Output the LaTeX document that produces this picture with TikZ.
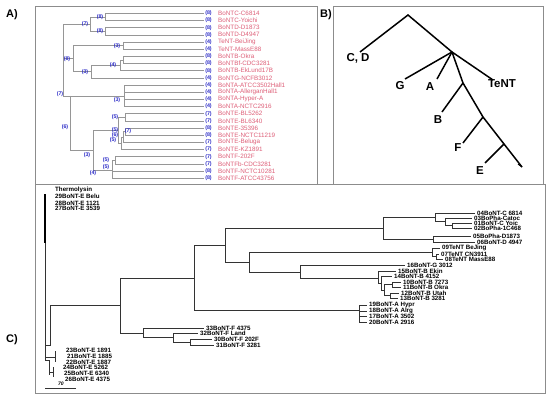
\documentclass[tikz,border=0pt]{standalone}
\usepackage{fontspec}
\setmainfont{Liberation Sans}
\definecolor{pinkA}{RGB}{222,95,120}
\definecolor{blueA}{RGB}{45,45,200}
\definecolor{grayA}{RGB}{150,150,150}
\definecolor{frameC}{RGB}{140,140,140}
\begin{document}
\begin{tikzpicture}[x=1pt,y=-1pt,
  treeA/.style={draw=grayA,line width=0.6pt},
  treeC/.style={draw=black!80,line width=0.6pt},
  treeB/.style={draw=black,line width=1.5pt},
  frame/.style={draw=frameC,line width=0.8pt},
  lblA/.style={font=\fontsize{6.3}{6.3}\selectfont,text=pinkA,anchor=west,inner sep=0pt},
  numA/.style={font=\fontsize{5.3}{5.3}\selectfont\bfseries,text=blueA,inner sep=0pt},
  lblC/.style={font=\fontsize{6.2}{6.2}\selectfont\bfseries,anchor=west,inner sep=0pt},
  lblB/.style={font=\fontsize{11.5}{11.5}\selectfont\bfseries,inner sep=0pt},
  panel/.style={font=\fontsize{11}{11}\selectfont\bfseries,inner sep=0pt}]
\useasboundingbox (0,0) rectangle (550,399);
\fill[white] (0,0) rectangle (550,399);
% frames
\draw[frame] (35,6) rectangle (317,184);
\draw[frame] (333,6) rectangle (543,184);
\draw[frame] (35,184) rectangle (545,393);
\node[panel] (labA) at (12,15) {A)};
\node[panel] (labB) at (326,15) {B)};
\node[panel] (labC) at (12,340) {C)};

% ================= Panel A =================
\foreach \i/\px/\n/\t in {1/105/8/BoNTC-C6814,2/105/8/BoNTC-Yoichi,3/105/8/BoNTD-D1873,4/105/8/BoNTD-D4947,
 5/123/4/TeNT-BeiJing,6/123/4/TeNT-MassE88,7/123/8/BoNTB-Okra,8/123/8/BoNTBf-CDC3281,9/120/8/BoNTB-EkLund17B,
 10/91/4/BoNTG-NCFB3012,11/124/4/BoNTA-ATCC3502Hall1,12/124/4/BoNTA-AllerganHall1,13/124/4/BoNTA-Hyper-A,
 14/124/4/BoNTA-NCTC2916,15/125/7/BoNTE-BL5262,16/125/7/BoNTE-BL6340,17/125/8/BoNTE-35396,18/125/8/BoNTE-NCTC11219,
 19/123/7/BoNTE-Beluga,20/121/7/BoNTE-KZ1891,21/115/7/BoNTF-202F,22/115/7/BoNTFb-CDC3281,23/112/8/BoNTF-NCTC10281,
 24/112/8/BoNTF-ATCC43756}{
  \pgfmathsetmacro\yy{13.3+7.17*(\i-1)}
  \draw[treeA] (\px,\yy) -- (204,\yy);
  \node[numA] (na\i) at (208.5,\yy) {(\n)};
  \node[lblA] (la\i) at (218,\yy) {\t};
}
% internal structure
\draw[treeA] (105,13.3) -- (105,20.47);
\draw[treeA] (105,27.64) -- (105,34.81);
\draw[treeA] (105,16.9) -| (90,31.2) -- (105,31.2);
\draw[treeA] (63,24.05) -- (90,24.05);
\draw[treeA] (63,24.05) -- (63,95.8) -- (124,95.8);
\draw[treeA] (123,41.98) -- (123,49.15);
\draw[treeA] (123,56.32) -- (123,63.49);
\draw[treeA] (123,59.9) -| (120,70.66);
\draw[treeA] (120,65.3) -| (91,77.83);
\draw[treeA] (123,45.6) -| (73,71.6) -- (91,71.6);
\draw[treeA] (63,58.6) -- (73,58.6);
\draw[treeA] (124,85) -- (124,106.51);
\draw[treeA] (125,113.68) -- (125,120.85);
\draw[treeA] (125,128.02) -- (125,135.19);
\draw[treeA] (125,131.6) -| (123,142.36);
\draw[treeA] (123,137) -| (121,149.53);
\draw[treeA] (125,117.3) -| (118,143.3) -- (121,143.3);
\draw[treeA] (115,156.7) -- (115,163.87);
\draw[treeA] (115,160.3) -| (112,178.21);
\draw[treeA] (118,130.3) -| (93,170) -- (112,170);
\draw[treeA] (70,95.8) -- (70,150) -- (93,150);
% node support numbers
\foreach \x/\y/\n [count=\k] in {100/17/8,100/31/8,85/24/7,67/59/8,117/46/3,113/65/4,85/72/3,60/94/7,117/100/3,
 65/127/6,115/117/5,115/130/5,115/135/6,113/140/5,128/131/7,87/155/3,106/160/5,106/167/5,93/173/4}{
  \node[numA] (nn\k) at (\x,\y) {(\n)};
}

% ================= Panel B =================
\coordinate (bR) at (408,15);
\coordinate (bCD) at (360,52);
\coordinate (bN1) at (452,52);
\coordinate (bG) at (405,79);
\coordinate (bA) at (437,79);
\coordinate (bT) at (493,80);
\coordinate (bN2) at (463,83);
\coordinate (bN3) at (483,117);
\coordinate (bN4) at (504,144);
\coordinate (bEnd) at (522,167);
\coordinate (bB) at (442,112);
\coordinate (bF) at (463,143);
\coordinate (bE) at (485,163);
\draw[treeB] (bCD) -- (bR) -- (bN1) -- (bN2) -- (bN3) -- (bN4) -- (bEnd);
\draw[treeB] (bN1) -- (bG);
\draw[treeB] (bN1) -- (bA);
\draw[treeB] (bN1) -- (bT);
\draw[treeB] (bN2) -- (bB);
\draw[treeB] (bN3) -- (bF);
\draw[treeB] (bN4) -- (bE);
\draw[black,line width=1pt] (bEnd) -- ++(-4,-3);
\node[lblB] (tCD) at (358,58) {C, D};
\node[lblB] (tG) at (400,86) {G};
\node[lblB] (tA) at (430,87) {A};
\node[lblB] (tT) at (502,84) {TeNT};
\node[lblB] (tB) at (438,120) {B};
\node[lblB] (tF) at (458,148) {F};
\node[lblB] (tE) at (480,171) {E};

% ================= Panel C =================
\draw[black,line width=1.6pt] (45,194) -- (45,243);
\draw[treeC] (45,243) -- (45,360);
\draw[treeC] (45,345) -- (50,345) -- (50,305) -- (120,305);
\draw[treeC] (45,357) -- (55,357);
\draw[treeC] (55,351) -- (55,362);
\draw[treeC] (45,360) -- (49,360) -- (49,375);
\draw[treeC] (49,372) -- (53,372);
\draw[treeC] (53,367) -- (53,377);
\draw[treeC] (120,278) -- (120,333);
\draw[treeC] (120,278) -- (194,278);
\draw[treeC] (194,245) -- (194,310);
\draw[treeC] (194,245) -- (225,245);
\draw[treeC] (225,228) -- (225,262);
\draw[treeC] (225,228) -- (383,228);
\draw[treeC] (383,217.4) -- (383,239);
\draw[treeC] (383,217.4) -- (435,217.4);
\draw[treeC] (435,213) -- (435,221.75) -- (445,221.75);
\draw[treeC] (445,218) -- (445,225.5) -- (452,225.5);
\draw[treeC] (452,223) -- (452,228);
\draw[treeC] (383,239) -- (433,239);
\draw[treeC] (433,236) -- (433,242);
\draw[treeC] (225,262) -- (249,262);
\draw[treeC] (249,252.25) -- (249,272);
\draw[treeC] (249,252.25) -- (432,252.25);
\draw[treeC] (432,248) -- (432,256.5) -- (436,256.5);
\draw[treeC] (436,254) -- (436,259);
\draw[treeC] (249,272) -- (300,272);
\draw[treeC] (300,265) -- (300,278) -- (378,278);
\draw[treeC] (378,271) -- (378,283) -- (381,283);
\draw[treeC] (381,276.5) -- (381,290) -- (384,290);
\draw[treeC] (384,284.5) -- (384,295.5);
\draw[treeC] (384,284.5) -- (392,284.5);
\draw[treeC] (384,295.5) -- (390,295.5);
\draw[treeC] (392,282) -- (392,287);
\draw[treeC] (390,293) -- (390,298);
\draw[treeC] (194,310) -- (359,310);
\draw[treeC] (359,305) -- (359,322);
\draw[treeC] (120,333) -- (143,333);
\draw[treeC] (143,328) -- (143,337) -- (173,337);
\draw[treeC] (173,333) -- (173,342) -- (190,342);
\draw[treeC] (190,339) -- (190,345);
\foreach \xs/\xe/\y/\lx/\t [count=\k] in {
 435/475/213/477/04BoNT-C 6814, 445/472/218/474/03BoPha-Catoc, 452/472/223/474/01BoNT-C Yoic,
 452/472/228/474/02BoPha-1C468, 433/471/236/473/05BoPha-D1873, 433/475/242/477/06BoNT-D 4947,
 432/440/248/442/09TeNT BeJing, 436/439/254/441/07TeNT CN3911, 436/443/259/445/08TeNT MassE88,
 300/405/265/407/16BoNT-G 3012, 378/396/271/398/15BoNT-B Ekin, 381/392/276.5/394/14BoNT-B 4152,
 392/401/282/403/10BoNT-B 7273, 392/401/287/403/11BoNT-B Okra, 390/399/293/401/12BoNT-B Utah,
 390/398/298/400/13BoNT-B 3281, 359/367/305/369/19BoNT-A Hypr, 359/367/311/369/18BoNT-A Alrg,
 359/367/316/369/17BoNT-A 3502, 359/367/322/369/20BoNT-A 2916, 143/204/328/206/33BoNT-F 4375,
 173/198/333/200/32BoNT-F Land, 190/212/339/214/30BoNT-F 202F, 190/214/345/216/31BoNT-F 3281}{
  \draw[treeC] (\xs,\y) -- (\xe,\y);
  \node[lblC] (lc\k) at (\lx,\y) {\t};
}
\foreach \lx/\y/\t [count=\k] in {55/190/Thermolysin, 55/196/29BoNT-E Belu, 55/203/28BoNT-E 1121, 55/208.5/27BoNT-E 3539,
 66/350/23BoNT-E 1891, 67/356/21BoNT-E 1885, 66/362/22BoNT-E 1887, 63/367.5/24BoNT-E 5262,
 64/373/25BoNT-E 6340, 65/379/26BoNT-E 4375}{
  \node[lblC] (le\k) at (\lx,\y) {\t};
}
\coordinate (sb1) at (45,388);
\coordinate (sb2) at (76,388);
\draw[treeC] (sb1) -- (sb2);
\node[font=\fontsize{5}{5}\selectfont\bfseries\itshape,inner sep=0pt] (sbl) at (61,384) {70};
\end{tikzpicture}
\end{document}
